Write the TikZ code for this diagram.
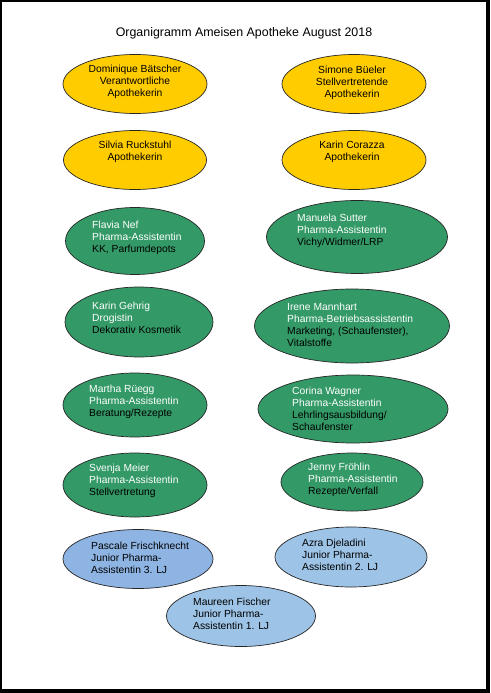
\documentclass[tikz,border=0pt]{standalone}
\usepackage{fontspec}
\setmainfont{Liberation Sans}
\usetikzlibrary{shapes.geometric}

\definecolor{apogelb}{HTML}{FFCC00}
\definecolor{apogruen}{HTML}{339966}
\definecolor{apoblau}{HTML}{9DC3E6}
\definecolor{apoblaudunkel}{HTML}{8EB4E3}

\tikzset{
  person/.style={ellipse, draw=black!85, line width=0.7pt, inner sep=0pt},
  leitung/.style={person, fill=apogelb},
  assistenz/.style={person, fill=apogruen},
  junior/.style={person, fill=apoblau},
  txt/.style={inner sep=0pt, font=\fontsize{10.3}{12}\selectfont},
  txtlinks/.style={txt, anchor=west, align=left},
  txtmitte/.style={txt, align=center}
}

\begin{document}
\begin{tikzpicture}[x=1pt, y=-1pt]
  % Rahmen mit Schatten
  \fill[black] (0,0) rectangle (490,693);
  \fill[white] (2,2) rectangle (486,689);
  \useasboundingbox (0,0) rectangle (490,693);

  % Titel
  \node[txt, font=\fontsize{12.4}{14}\selectfont] (titel) at (244,33) {Organigramm Ameisen Apotheke August 2018};

  % Apothekerinnen (gelb)
  \node[leitung, minimum width=144pt, minimum height=59pt] (baetscher) at (135,84) {};
  \node[txtmitte] (baetscher-t) at (135,82) {Dominique Bätscher\\Verantwortliche\\Apothekerin};
  \node[leitung, minimum width=144pt, minimum height=59pt] (bueeler) at (354,84) {};
  \node[txtmitte] (bueeler-t) at (352,83) {Simone Büeler\\Stellvertretende\\Apothekerin};
  \node[leitung, minimum width=143pt, minimum height=59pt] (ruckstuhl) at (135,160) {};
  \node[txtmitte] (ruckstuhl-t) at (135,152) {Silvia Ruckstuhl\\Apothekerin};
  \node[leitung, minimum width=144pt, minimum height=59pt] (corazza) at (354,160) {};
  \node[txtmitte] (corazza-t) at (352,152) {Karin Corazza\\Apothekerin};

  % Pharma-Assistentinnen (gruen)
  \node[assistenz, minimum width=139pt, minimum height=67pt] (nef) at (135,241) {};
  \node[txtlinks] (nef-t) at (92,238) {\textcolor{white}{Flavia Nef}\\\textcolor{white}{Pharma-Assistentin}\\KK, Parfumdepots};
  \node[assistenz, minimum width=181pt, minimum height=73pt] (sutter) at (357,237) {};
  \node[txtlinks] (sutter-t) at (297,231) {\textcolor{white}{Manuela Sutter}\\\textcolor{white}{Pharma-Assistentin}\\Vichy/Widmer/LRP};
  \node[assistenz, minimum width=148pt, minimum height=70pt] (gehrig) at (139,322) {};
  \node[txtlinks] (gehrig-t) at (92,318) {\textcolor{white}{Karin Gehrig}\\\textcolor{white}{Drogistin}\\Dekorativ Kosmetik};
  \node[assistenz, minimum width=195pt, minimum height=74pt] (mannhart) at (352,326) {};
  \node[txtlinks] (mannhart-t) at (287,325) {\textcolor{white}{Irene Mannhart}\\\textcolor{white}{Pharma-Betriebsassistentin}\\Marketing, (Schaufenster),\\Vitalstoffe};
  \node[assistenz, minimum width=144pt, minimum height=64pt] (rueegg) at (135,405) {};
  \node[txtlinks] (rueegg-t) at (89,402) {\textcolor{white}{Martha Rüegg}\\\textcolor{white}{Pharma-Assistentin}\\Beratung/Rezepte};
  \node[assistenz, minimum width=190pt, minimum height=68pt] (wagner) at (353,409) {};
  \node[txtlinks] (wagner-t) at (292,409) {\textcolor{white}{Corina Wagner}\\\textcolor{white}{Pharma-Assistentin}\\Lehrlingsausbildung/\\Schaufenster};
  \node[assistenz, minimum width=144pt, minimum height=64pt] (meier) at (135,485) {};
  \node[txtlinks] (meier-t) at (89,481) {\textcolor{white}{Svenja Meier}\\\textcolor{white}{Pharma-Assistentin}\\Stellvertretung};
  \node[assistenz, minimum width=142pt, minimum height=58pt] (froehlin) at (352,482) {};
  \node[txtlinks] (froehlin-t) at (308,480) {\textcolor{white}{Jenny Fröhlin}\\\textcolor{white}{Pharma-Assistentin}\\Rezepte/Verfall};

  % Junior Pharma-Assistentinnen (blau)
  \node[junior, fill=apoblaudunkel, minimum width=150pt, minimum height=59pt] (frischknecht) at (138,559) {};
  \node[txtlinks] (frischknecht-t) at (91,558) {Pascale Frischknecht\\Junior Pharma-\\Assistentin 3. LJ};
  \node[junior, minimum width=152pt, minimum height=60pt] (djeladini) at (351,557) {};
  \node[txtlinks] (djeladini-t) at (302,555) {Azra Djeladini\\Junior Pharma-\\Assistentin 2. LJ};
  \node[junior, minimum width=149pt, minimum height=61pt] (fischer) at (241,616) {};
  \node[txtlinks] (fischer-t) at (193,614) {Maureen Fischer\\Junior Pharma-\\Assistentin 1. LJ};
\end{tikzpicture}
\end{document}
